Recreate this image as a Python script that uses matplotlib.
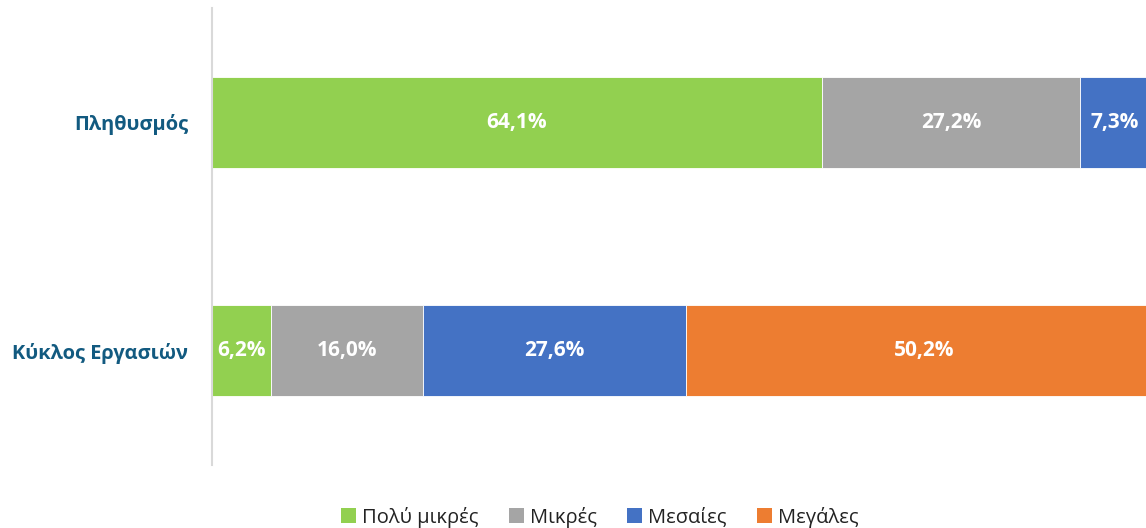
import matplotlib
matplotlib.use("Agg")
import matplotlib.pyplot as plt
from matplotlib.patches import Patch

plt.rcParams['font.family'] = ['Open Sans', 'DejaVu Sans']

categories = ["Πληθυσμός", "Κύκλος Εργασιών"]
series_names = ["Πολύ μικρές", "Μικρές", "Μεσαίες", "Μεγάλες"]
poly_mikres = [64.1, 6.2]
mikres = [27.2, 16.0]
mesaies = [7.3, 27.6]
megales = [1.4, 50.2]
colors = ["#92D050", "#A5A5A5", "#4472C4", "#ED7D31"]

series = [poly_mikres, mikres, mesaies, megales]

fig = plt.figure(figsize=(11.46, 5.28), dpi=100)
W, H = 1146, 528
ax = fig.add_axes([212 / W, 1 - 465 / H, 951 / W, 457 / H])

ypos = [1, 0]
left = [0.0, 0.0]
for vals, name, c in zip(series, series_names, colors):
    ax.barh(ypos, vals, left=left, height=0.4, color=c, edgecolor="white", linewidth=0.6, label=name)
    for y, v, l in zip(ypos, vals, left):
        if v >= 5:
            ax.text(l + v / 2, y, f"{v:.1f}%".replace(".", ","), ha="center", va="center",
                    color="white", fontsize=15, fontweight="bold")
    left = [l + v for l, v in zip(left, vals)]

ax.set_xlim(0, 100)
ax.set_ylim(-0.5, 1.5)
ax.set_yticks(ypos)
ax.set_yticklabels(categories, fontsize=14.4, fontweight="bold", color="#125A80")
ax.tick_params(axis="y", length=0, pad=17)
ax.set_xticks([])
for s in ["top", "right", "bottom"]:
    ax.spines[s].set_visible(False)
ax.spines["left"].set_color("#D9D9D9")
ax.spines["left"].set_linewidth(1.5)

handles = [Patch(facecolor=c, label=n) for n, c in zip(series_names, colors)]
leg = fig.legend(handles=handles, loc="center", bbox_to_anchor=(600 / W, 1 - 517 / H), ncol=4,
                 frameon=False, fontsize=14.5, handlelength=0.75, handleheight=0.75,
                 handletextpad=0.3, columnspacing=1.5, labelcolor="#222222")

fig.savefig("out.png", dpi=100)
